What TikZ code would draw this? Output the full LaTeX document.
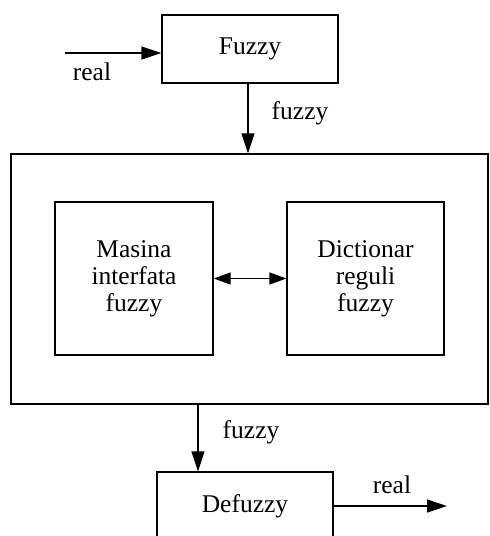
\documentclass[tikz,border=0pt]{standalone}
\usepackage{fontspec}
\setmainfont{Liberation Serif}
\usetikzlibrary{arrows.meta}
\begin{document}
\begin{tikzpicture}[x=1pt,y=-1pt,
  box/.style={draw, line width=1.3pt, inner sep=0pt},
  lbl/.style={inner sep=0pt},
  arr/.style={line width=1.3pt, -{Triangle[length=20pt,width=13pt]}},
  darr/.style={line width=1.3pt, {Triangle[length=17pt,width=12pt]}-{Triangle[length=17pt,width=12pt]}},
  font=\fontsize{25.5}{27}\selectfont]
\useasboundingbox (0,0) rectangle (490,536);
\clip (0,0) rectangle (490,536);
\node[box, minimum width=176pt, minimum height=68pt] (fuzzy) at (250,49) {Fuzzy};
\coordinate (in) at (65,53);
\draw[arr] (in) -- (in -| fuzzy.west);
\node[lbl] (real1) at (92,72) {real};
\node[box, minimum width=477pt, minimum height=250pt] (outer) at (249.5,279) {};
\coordinate (dn) at (248,0);
\draw[arr] (dn |- fuzzy.south) -- (dn |- outer.north);
\node[lbl] (fz1) at (300,113) {fuzzy};
\node[box, minimum width=158pt, minimum height=153pt, align=center] (masina) at (134,278.5) {Masina\\interfata\\fuzzy};
\node[box, minimum width=157pt, minimum height=153pt, align=center] (dict) at (365.5,278.5) {Dictionar\\reguli\\fuzzy};
\draw[darr] (masina.east) -- (dict.west);
\node[box, minimum width=176pt, minimum height=68pt] (defuzzy) at (245,506) {Defuzzy};
\coordinate (bt) at (198,0);
\draw[arr] (bt |- outer.south) -- (bt |- defuzzy.north);
\node[lbl] (fz2) at (251,432) {fuzzy};
\coordinate (out) at (447,506);
\draw[arr] (defuzzy.east) -- (out);
\node[lbl] (real2) at (392,485) {real};
\end{tikzpicture}
\end{document}
